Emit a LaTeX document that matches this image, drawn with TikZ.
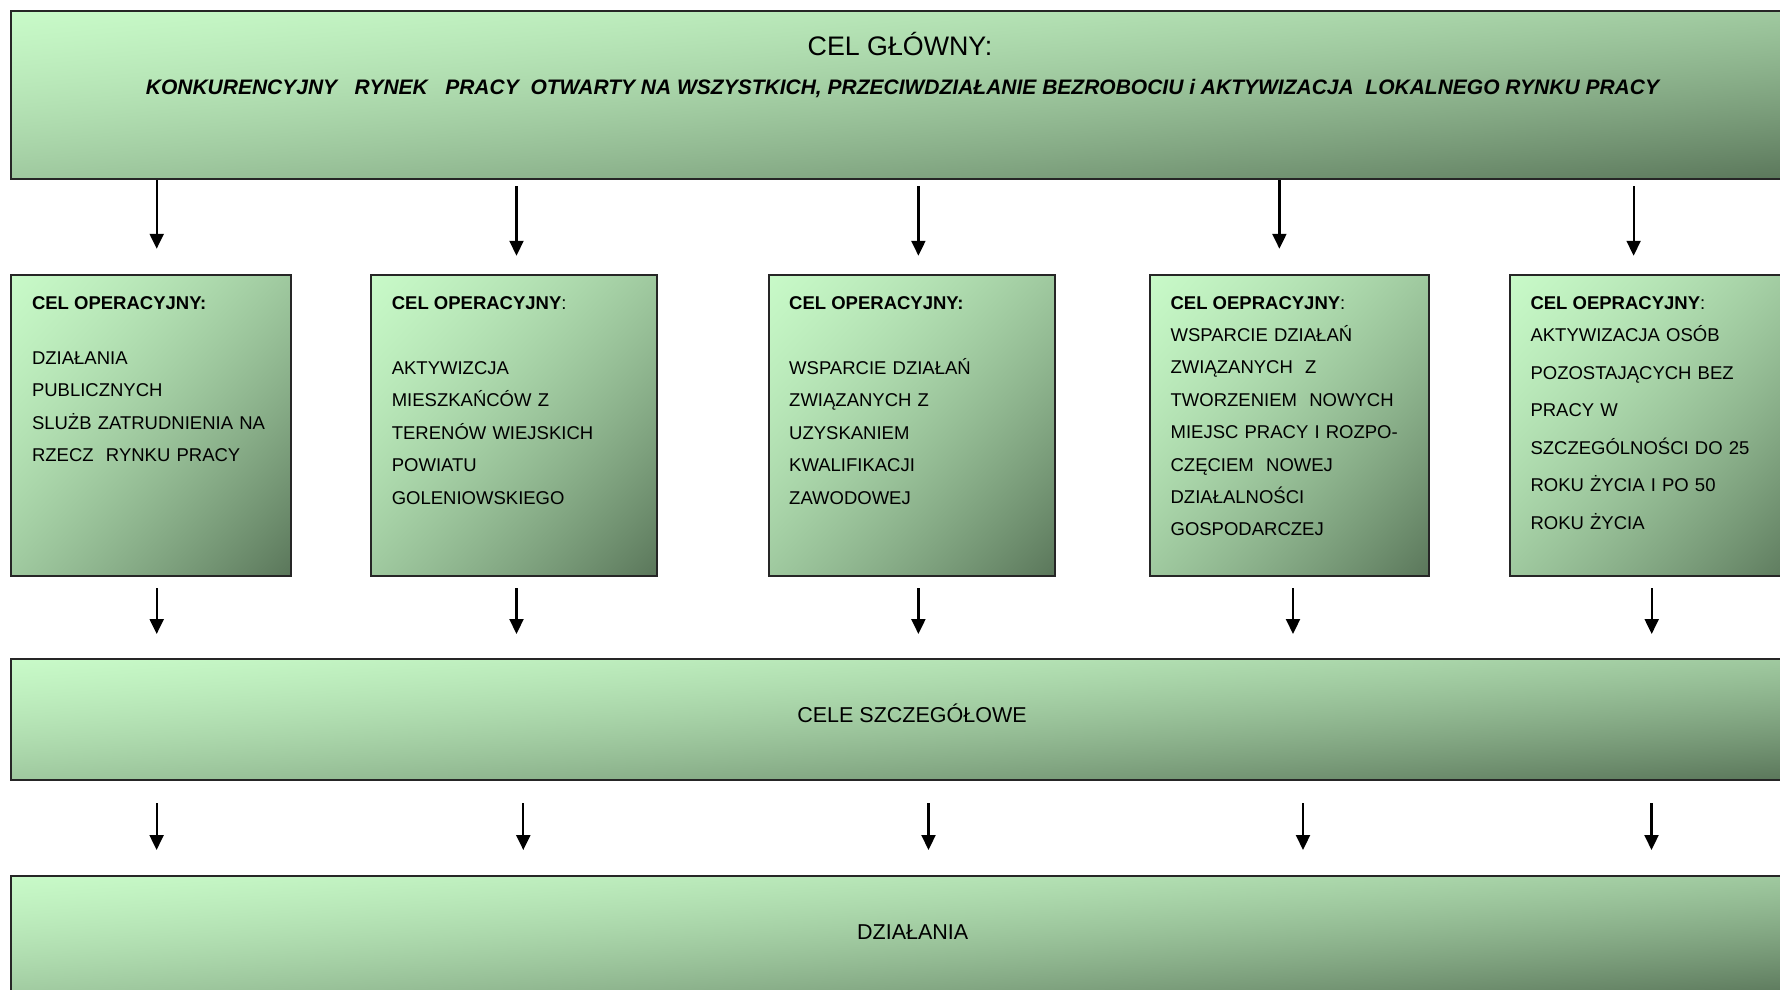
\documentclass[tikz,border=0pt]{standalone}
\usepackage{fontspec}
\setmainfont{Liberation Sans}
\usetikzlibrary{arrows.meta}
% light green (top left) to dark green (bottom right)
\pgfdeclarefunctionalshading{diaggreen}{\pgfpoint{-50bp}{-50bp}}{\pgfpoint{50bp}{50bp}}{}{
  exch sub 50 add 100 div
  dup 0 lt {pop 0} if dup 1 gt {pop 1} if
  dup 0.5 mul 1.5 exch sub mul
  dup 0.431 mul 0.353 add exch
  dup 0.517 mul 0.463 add exch
  0.431 mul 0.353 add
}

\begin{document}
\begin{tikzpicture}[x=1pt, y=-1pt,
    % Styles
    greenbox/.style={draw=black!85, line width=2pt, inner sep=0pt, shade, shading=diaggreen},
    head/.style={anchor=base west, inner sep=0pt, font=\fontsize{18.5}{20}\selectfont},
    body/.style={anchor=base west, inner sep=0pt, text width=250pt, align=left, font=\fontsize{18.5}{32.4}\selectfont},
    arrow/.style={-{Triangle[length=15pt, width=14pt]}, line width=2.2pt},
]
\useasboundingbox (0,0) rectangle (1780,990);
\clip (0,0) rectangle (1780,990);

% Main goal
\node[greenbox, minimum width=1788.6pt, minimum height=168pt] (cel) at (905.7,95.4) {};
\node[anchor=base, font=\fontsize{26.8}{30}\selectfont] (celtitle) at (900,55.8) {CEL GŁÓWNY:};
\node[anchor=base, font=\fontsize{21}{24}\selectfont\bfseries\itshape] (celtext) at (902.5,94) {KONKURENCYJNY\ \ \ RYNEK\ \ \ PRACY\ \ OTWARTY NA WSZYSTKICH, PRZECIWDZIAŁANIE BEZROBOCIU i AKTYWIZACJA\ \ LOKALNEGO RYNKU PRACY};

% Operational goals
\node[greenbox, minimum width=279.2pt, minimum height=300.9pt] (op1) at (151,425.2) {};
\node[greenbox, minimum width=286.3pt, minimum height=300.9pt] (op2) at (514.2,425.2) {};
\node[greenbox, minimum width=286.1pt, minimum height=300.9pt] (op3) at (911.6,425.2) {};
\node[greenbox, minimum width=279.2pt, minimum height=300.9pt] (op4) at (1289.6,425.2) {};
\node[greenbox, minimum width=290pt, minimum height=300.9pt] (op5) at (1654.9,425.2) {};

\node[head] (h1) at (31.8,309.7) {\bfseries CEL OPERACYJNY:};
\node[body] (t1) at (31.8,364.2) {DZIAŁANIA\\PUBLICZNYCH\\SLUŻB ZATRUDNIENIA NA\\RZECZ\ \ RYNKU PRACY};

\node[head] (h2) at (391.6,309.7) {\textbf{CEL OPERACYJNY}:};
\node[body] (t2) at (391.6,374.4) {AKTYWIZCJA\\MIESZKAŃCÓW Z\\TERENÓW WIEJSKICH\\POWIATU\\GOLENIOWSKIEGO};

\node[head] (h3) at (789,309.7) {\bfseries CEL OPERACYJNY:};
\node[body] (t3) at (789,374.4) {WSPARCIE DZIAŁAŃ\\ZWIĄZANYCH Z\\UZYSKANIEM\\KWALIFIKACJI\\ZAWODOWEJ};

\node[head] (h4) at (1170.4,309.7) {\textbf{CEL OEPRACYJNY}:};
\node[body] (t4) at (1170.4,341.5) {WSPARCIE DZIAŁAŃ\\ZWIĄZANYCH\ \ Z\\TWORZENIEM\ \ NOWYCH\\MIEJSC PRACY I ROZPO-\\CZĘCIEM\ \ NOWEJ\\DZIAŁALNOŚCI\\GOSPODARCZEJ};

\node[head] (h5) at (1530.3,309.7) {\textbf{CEL OEPRACYJNY}:};
\node[body, font=\fontsize{18.5}{37.5}\selectfont] (t5) at (1530.3,341.5) {AKTYWIZACJA OSÓB\\POZOSTAJĄCYCH BEZ\\PRACY W\\SZCZEGÓLNOŚCI DO 25\\ROKU ŻYCIA I PO 50\\ROKU ŻYCIA};

% Specific goals and actions
\node[greenbox, minimum width=1788.6pt, minimum height=121pt] (szcz) at (905.7,719.5) {};
\node[anchor=base, font=\fontsize{21.5}{26}\selectfont] (szcztext) at (912,722.7) {CELE SZCZEGÓŁOWE};

\node[greenbox, minimum width=1788.6pt, minimum height=121pt] (dzial) at (905.7,936.2) {};
\node[anchor=base, font=\fontsize{21.5}{26}\selectfont] (dzialtext) at (912.7,939.4) {DZIAŁANIA};

% Arrow columns
\coordinate (a1) at (156.7,0);  \coordinate (b1) at (156.7,0);  \coordinate (c1) at (156.6,0);
\coordinate (a2) at (516.5,0);  \coordinate (b2) at (516.5,0);  \coordinate (c2) at (523.3,0);
\coordinate (a3) at (918.4,0);  \coordinate (b3) at (918.4,0);  \coordinate (c3) at (928.5,0);
\coordinate (a4) at (1279.4,0); \coordinate (b4) at (1293,0);   \coordinate (c4) at (1303,0);
\coordinate (a5) at (1633.6,0); \coordinate (b5) at (1651.7,0); \coordinate (c5) at (1651.5,0);

% Main goal -> operational goals
\draw[arrow, shorten >=25pt] (cel.south -| a1) -- (op1.north -| a1);
\draw[arrow, shorten <=5.6pt, shorten >=18pt] (cel.south -| a2) -- (op2.north -| a2);
\draw[arrow, shorten <=5.6pt, shorten >=18pt] (cel.south -| a3) -- (op3.north -| a3);
\draw[arrow, shorten >=25pt] (cel.south -| a4) -- (op4.north -| a4);
\draw[arrow, shorten <=5.6pt, shorten >=18pt] (cel.south -| a5) -- (op5.north -| a5);

% Operational goals -> specific goals
\draw[arrow, shorten <=11.4pt, shorten >=24pt] (op1.south -| b1) -- (szcz.north -| b1);
\draw[arrow, shorten <=11.4pt, shorten >=24pt] (op2.south -| b2) -- (szcz.north -| b2);
\draw[arrow, shorten <=11.4pt, shorten >=24pt] (op3.south -| b3) -- (szcz.north -| b3);
\draw[arrow, shorten <=11.4pt, shorten >=24pt] (op4.south -| b4) -- (szcz.north -| b4);
\draw[arrow, shorten <=11.4pt, shorten >=24pt] (op5.south -| b5) -- (szcz.north -| b5);

% Specific goals -> actions
\draw[arrow, shorten <=22.3pt, shorten >=24.7pt] (szcz.south -| c1) -- (dzial.north -| c1);
\draw[arrow, shorten <=22.3pt, shorten >=24.7pt] (szcz.south -| c2) -- (dzial.north -| c2);
\draw[arrow, shorten <=22.3pt, shorten >=24.7pt] (szcz.south -| c3) -- (dzial.north -| c3);
\draw[arrow, shorten <=22.3pt, shorten >=24.7pt] (szcz.south -| c4) -- (dzial.north -| c4);
\draw[arrow, shorten <=22.3pt, shorten >=24.7pt] (szcz.south -| c5) -- (dzial.north -| c5);

\end{tikzpicture}
\end{document}
